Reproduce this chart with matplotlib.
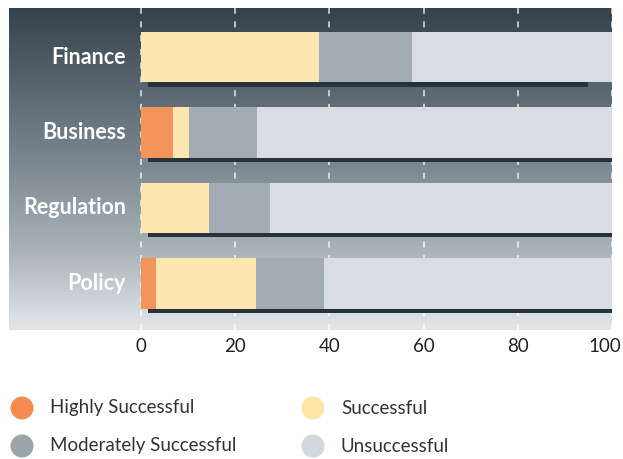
import numpy as np
import matplotlib.pyplot as plt
from matplotlib.colors import LinearSegmentedColormap
from matplotlib.patches import Ellipse
from matplotlib.transforms import ScaledTranslation

# Survey results by sector (percent of respondents)
categories = ["Finance", "Business", "Regulation", "Policy"]
series_names = ["Highly Successful", "Successful", "Moderately Successful", "Unsuccessful"]
highly = [0.0, 6.8, 0.0, 3.3]
successful = [37.8, 3.4, 14.5, 21.1]
moderate = [19.7, 14.4, 13.0, 14.5]
unsuccessful = [42.5, 75.4, 72.5, 61.1]
shadow_end = [95, 100, 100, 100]
tick_values = [0, 20, 40, 60, 80, 100]

bar_colors = ["#f4945a", "#fde6b0", "#a3acb3", "#d9dde1"]
legend_colors = ["#f28c50", "#fde6a8", "#9aa4ab", "#d2d8dc"]

plt.rcParams['font.family'] = ['Lato', 'DejaVu Sans']

W, H = 623, 459
fig = plt.figure(figsize=(W / 100, H / 100), dpi=100)
fig.patch.set_facecolor("white")

# axes spanning the dark panel (label column + bars)
left, right, top, bottom = 9, 612, 8, 330
ax = fig.add_axes([left / W, 1 - bottom / H, (right - left) / W, (bottom - top) / H])

x_min = -28.0
ax.set_xlim(x_min, 100)
ax.set_ylim(3.62, -0.65)

# vertical gradient background
grad_cmap = LinearSegmentedColormap.from_list(
    "panel", ["#36424b", "#5a6771", "#7e8a93", "#a9b2b8", "#e3e7ea"])
grad = np.linspace(0, 1, 256).reshape(-1, 1)
ax.imshow(grad, cmap=grad_cmap, aspect="auto",
          extent=[x_min, 100, 3.62, -0.65], zorder=0, interpolation="bicubic")

# dashed white gridlines
for v in tick_values:
    ax.axvline(v, color="white", lw=1.1, ls=(0, (4, 5)), alpha=0.85, zorder=1)

y = np.arange(len(categories))
bar_h = 0.67

# shadows under each bar
for i in range(len(categories)):
    ax.barh(y[i] + bar_h / 2 + 0.03, shadow_end[i] - 1.4, left=1.4, height=0.055,
            color="#27333b", zorder=2)

lefts = np.zeros(len(categories))
for vals, col in zip([highly, successful, moderate, unsuccessful], bar_colors):
    ax.barh(y, vals, left=lefts, height=bar_h, color=col, zorder=3, linewidth=0)
    lefts += np.array(vals)

for i, name in enumerate(categories):
    ax.text(-3.2, y[i], name, ha="right", va="center", color="white",
            fontsize=15.5, fontweight="bold", zorder=4)

ax.set_xticks(tick_values)
ax.set_xticklabels([str(t) for t in tick_values], fontsize=13.5, color="#222222")
ax.tick_params(axis="x", length=0, pad=6)
last = ax.get_xticklabels()[-1]
last.set_transform(last.get_transform() + ScaledTranslation(-0.07, 0, fig.dpi_scale_trans))
ax.set_yticks([])
for s in ax.spines.values():
    s.set_visible(False)

# legend
legend_pos = [(22, 408), (313, 408), (22, 446), (313, 446)]
for (px, py), name, col in zip(legend_pos, series_names, legend_colors):
    fig.add_artist(Ellipse((px / W, 1 - py / H), 23 / W, 23 / H,
                           transform=fig.transFigure, color=col, lw=0))
    fig.text((px + 28) / W, 1 - py / H, name, ha="left", va="center",
             fontsize=13.5, color="#333333")

fig.savefig("out.png", dpi=100)
